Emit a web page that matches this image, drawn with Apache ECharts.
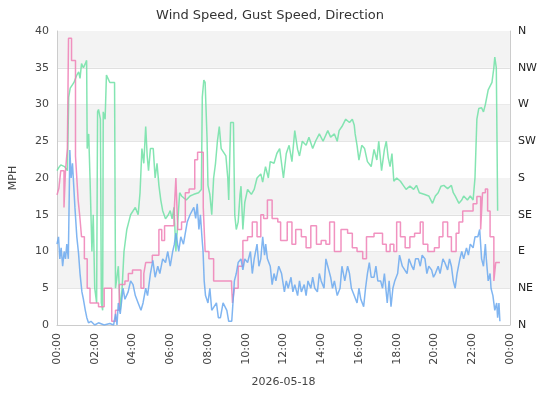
<!DOCTYPE html>
<html><head><meta charset="utf-8">
<script src="https://cdn.jsdelivr.net/npm/echarts@6/dist/echarts.min.js"></script>
<style>html,body{margin:0;padding:0;background:#fff}#c{width:540px;height:400px}</style>
</head><body><div id="c"></div>
<script>
const dateLabel = '2026-05-18';
const dirLabels = ['N','NE','E','SE','S','SW','W','NW','N'];
// [hour, mph]
const windSpeed = [[0,11],[0.08,12],[0.15,9],[0.22,10.5],[0.3,8],[0.38,10],[0.45,9],[0.52,11],[0.6,9],[0.65,18],[0.68,23.8],[0.75,20],[0.82,22],[0.88,22],[0.95,16],[1.05,12],[1.14,9.8],[1.22,7],[1.32,4.5],[1.4,3.5],[1.5,2],[1.58,1],[1.67,0.3],[1.8,0.5],[2.0,0],[2.2,0.3],[2.5,0],[2.8,0.2],[3.0,0],[3.1,1.5],[3.18,0],[3.25,3],[3.35,1.5],[3.5,5],[3.6,3.5],[3.77,4.5],[3.9,6],[4.03,5.5],[4.15,4],[4.3,3],[4.45,2],[4.56,3],[4.7,5],[4.8,4],[4.95,7],[5.08,8.8],[5.2,6.5],[5.34,8],[5.45,7],[5.6,9],[5.75,8.5],[5.87,10],[6.0,8],[6.13,10],[6.22,11],[6.3,12.5],[6.45,10],[6.56,12],[6.7,11],[6.9,14],[7.05,15],[7.25,16],[7.35,14.5],[7.43,16.5],[7.52,13],[7.6,15],[7.68,12],[7.74,10],[7.8,6],[7.87,4],[8.0,3],[8.1,5],[8.2,2],[8.3,2],[8.45,3],[8.55,1],[8.66,1],[8.8,3],[9.0,2],[9.1,0.5],[9.26,0.5],[9.35,4],[9.4,6],[9.5,7],[9.6,8.5],[9.75,9],[9.85,7.5],[9.95,9],[10.1,8.5],[10.25,10],[10.35,7],[10.45,9],[10.6,11],[10.7,8],[10.8,9],[10.9,12],[11.0,9.5],[11.06,11],[11.15,9],[11.3,8],[11.4,5.5],[11.5,7],[11.6,6],[11.75,8],[11.9,7],[12.05,4.5],[12.15,6],[12.25,5],[12.4,6.5],[12.5,4.5],[12.6,5.5],[12.75,4],[12.85,6],[12.95,4.5],[13.1,5.5],[13.2,4],[13.3,6],[13.45,5],[13.55,6.5],[13.66,5],[13.8,4.5],[13.9,7],[14.0,6],[14.15,5],[14.25,9],[14.35,8],[14.5,6.5],[14.6,5],[14.7,6],[14.85,4],[15.0,5],[15.1,8],[15.25,6],[15.4,8],[15.5,7],[15.6,5],[15.75,4],[15.9,3],[16.0,5],[16.1,3.5],[16.25,2.5],[16.35,5],[16.45,7],[16.55,8.5],[16.65,6.5],[16.8,6.5],[16.9,8],[17.0,6],[17.15,6],[17.25,5],[17.35,7],[17.5,3],[17.6,6],[17.7,2.5],[17.8,5],[17.9,6],[18.05,7],[18.15,9.5],[18.3,8],[18.4,8],[18.55,7],[18.65,9],[18.8,8],[18.9,7.5],[19.0,9],[19.15,9],[19.25,8],[19.35,9.5],[19.5,9],[19.6,7],[19.7,8],[19.85,7.5],[19.95,6.5],[20.05,7],[20.2,8],[20.3,7],[20.45,9],[20.55,8.5],[20.7,7.5],[20.8,9],[20.9,8],[21.0,6],[21.1,5],[21.2,7],[21.35,9],[21.45,10],[21.55,9],[21.7,10.5],[21.8,9.5],[21.9,11],[22.05,10.5],[22.15,12],[22.3,12],[22.4,13],[22.5,9],[22.6,8],[22.7,11],[22.75,9],[22.85,6],[22.95,7],[23.0,5],[23.1,4],[23.2,2],[23.3,3],[23.35,1],[23.42,3],[23.47,0.5]];
// [hour, mph]
const gustSpeed = [[0,17.7],[0.1,18.6],[0.2,21],[0.37,16],[0.45,21],[0.55,24],[0.61,39],[0.77,36],[0.98,23],[1.05,20],[1.12,17],[1.2,15],[1.3,12],[1.45,9],[1.6,5],[1.75,3],[2.2,2.5],[2.5,5],[2.9,0.5],[3.1,2],[3.3,5.5],[3.6,6],[3.78,7],[4.0,7.5],[4.45,5],[4.6,7],[4.7,8.5],[5.05,9.5],[5.4,13],[5.55,11.5],[5.7,13.5],[6.2,15],[6.3,20],[6.4,13],[6.6,14],[6.8,18],[7.0,18.5],[7.3,22.5],[7.45,23.5],[7.75,16],[7.85,10],[8.05,9],[8.3,6],[8.5,6],[9.25,5.5],[9.3,3],[9.4,5],[9.6,8],[9.85,11.5],[10.1,12],[10.35,14],[10.6,12],[10.8,15],[10.95,14.5],[11.15,17],[11.4,14.5],[11.7,14],[11.85,11.5],[12.2,14],[12.45,11],[12.65,13],[12.95,12],[13.2,10.5],[13.45,13.5],[13.75,11],[14.0,11.5],[14.25,11],[14.45,14],[14.7,10],[15.05,13],[15.4,12.5],[15.65,10.5],[15.9,10],[16.2,9],[16.4,12],[16.8,12.5],[17.25,11],[17.45,10],[17.65,11],[17.85,10],[18.0,14],[18.2,12],[18.45,10.5],[18.7,12],[18.95,12.5],[19.25,14],[19.4,11],[19.65,10],[20.0,10.5],[20.25,12],[20.45,14],[20.7,12],[20.9,10],[21.15,12.5],[21.3,14],[21.5,15.5],[21.75,15.5],[22.05,16.5],[22.25,17.5],[22.45,13],[22.55,18],[22.7,18.5],[22.82,15.5],[22.95,12],[23.15,6],[23.25,8.5],[23.47,8.5]];
// [hour, degrees]
const windDir = [[0,189],[0.1,193],[0.2,196],[0.3,198],[0.4,194],[0.5,196],[0.55,189],[0.62,279],[0.7,290],[0.8,288],[0.9,297],[0.97,297],[1.05,306],[1.15,310],[1.22,302],[1.3,320],[1.4,315],[1.5,320],[1.57,324],[1.6,216],[1.68,234],[1.75,180],[1.85,90],[1.92,135],[2.0,45],[2.1,27],[2.15,261],[2.2,264],[2.3,252],[2.35,27],[2.42,18],[2.45,261],[2.55,252],[2.62,306],[2.8,297],[3.05,297],[3.1,45],[3.25,72],[3.35,18],[3.45,45],[3.55,90],[3.7,117],[3.8,126],[3.9,135],[4.0,135],[4.15,144],[4.3,135],[4.4,162],[4.5,216],[4.6,198],[4.7,243],[4.78,207],[4.85,189],[4.95,216],[5.1,216],[5.2,180],[5.3,198],[5.4,171],[5.5,153],[5.6,140],[5.75,130],[5.9,135],[6.0,140],[6.1,130],[6.2,144],[6.3,90],[6.4,126],[6.5,162],[6.6,158],[6.7,158],[6.85,153],[7.05,158],[7.25,160],[7.5,162],[7.65,166],[7.7,279],[7.78,300],[7.85,297],[7.95,230],[8.0,171],[8.1,160],[8.2,135],[8.3,180],[8.4,198],[8.5,225],[8.6,243],[8.7,216],[8.8,216],[8.95,207],[9.05,180],[9.1,153],[9.2,248],[9.35,248],[9.42,135],[9.5,117],[9.6,126],[9.7,160],[9.75,170],[9.85,117],[9.95,150],[10.1,166],[10.3,160],[10.45,166],[10.6,180],[10.8,185],[10.9,175],[11.05,194],[11.2,180],[11.3,200],[11.5,198],[11.65,210],[11.8,216],[11.9,198],[12.0,180],[12.15,210],[12.3,220],[12.45,200],[12.6,238],[12.75,215],[12.85,207],[13.0,225],[13.2,220],[13.35,230],[13.55,216],[13.7,225],[13.9,234],[14.1,225],[14.35,238],[14.5,230],[14.7,234],[14.85,225],[14.95,238],[15.1,243],[15.3,252],[15.5,248],[15.65,252],[15.75,245],[15.8,234],[15.9,220],[16.0,202],[16.15,220],[16.3,216],[16.45,200],[16.65,194],[16.8,215],[16.95,202],[17.05,225],[17.2,189],[17.35,215],[17.45,225],[17.55,205],[17.65,194],[17.75,210],[17.85,176],[18.0,180],[18.2,176],[18.35,171],[18.5,166],[18.7,170],[18.9,166],[19.05,171],[19.2,162],[19.45,160],[19.7,158],[19.9,149],[20.05,158],[20.2,162],[20.35,170],[20.5,171],[20.7,167],[20.9,171],[21.0,162],[21.1,158],[21.3,149],[21.45,153],[21.55,158],[21.75,153],[21.9,158],[22.05,153],[22.15,180],[22.25,252],[22.35,265],[22.5,266],[22.6,261],[22.7,270],[22.85,288],[22.95,290],[23.05,297],[23.15,315],[23.2,328],[23.28,315],[23.32,220],[23.35,140]];

const chart = echarts.init(document.getElementById('c'));
const txt = '#444';
chart.setOption({
  animation: false,
  textStyle: {fontFamily: 'DejaVu Sans'},
  title: {text: 'Wind Speed, Gust Speed, Direction', left: 'center', top: 4,
    textStyle: {fontSize: 13, fontWeight: 'normal', color: '#333', fontFamily: 'DejaVu Sans'}},
  grid: {left: 55, right: 30, top: 31, bottom: 75},
  xAxis: {type: 'value', min: 0, max: 24, interval: 2,
    name: dateLabel, nameLocation: 'middle', nameGap: 52,
    nameTextStyle: {color: txt, fontSize: 11},
    axisLine: {lineStyle: {color: '#ccc'}}, axisTick: {show: false},
    splitLine: {show: false},
    axisLabel: {rotate: 90, color: txt, fontSize: 11,
      formatter: v => String(v % 24).padStart(2, '0') + ':00'}},
  yAxis: [
    {type: 'value', min: 0, max: 40, interval: 5, name: 'MPH', nameLocation: 'middle', nameGap: 38,
      nameTextStyle: {color: txt, fontSize: 11},
      axisLine: {show: true, lineStyle: {color: '#ccc'}}, axisTick: {show: false},
      axisLabel: {color: txt, fontSize: 11},
      splitLine: {lineStyle: {color: '#e0e0e0'}}},
    {type: 'value', min: 0, max: 360, interval: 45, position: 'right',
      axisLine: {show: true, lineStyle: {color: '#ccc'}}, axisTick: {show: false},
      axisLabel: {color: '#222', fontSize: 11, margin: 8, formatter: v => dirLabels[Math.round(v / 45)]},
      splitLine: {show: false},
      splitArea: {show: true, areaStyle: {color: ['rgba(255,255,255,0)', '#f3f3f3']}}}
  ],
  series: [
    {name: 'Wind Speed', type: 'line', data: windSpeed, showSymbol: false, yAxisIndex: 0,
      lineStyle: {color: '#6aa8ee', width: 1.5, opacity: 0.85}, z: 3},
    {name: 'Gust Speed', type: 'line', data: gustSpeed, step: 'end', showSymbol: false, yAxisIndex: 0,
      lineStyle: {color: '#ee7fb5', width: 1.5, opacity: 0.85}, z: 2},
    {name: 'Direction', type: 'line', data: windDir, showSymbol: false, yAxisIndex: 1,
      lineStyle: {color: '#6ee0a4', width: 1.5, opacity: 0.85}, z: 1}
  ]
});
</script></body></html>
